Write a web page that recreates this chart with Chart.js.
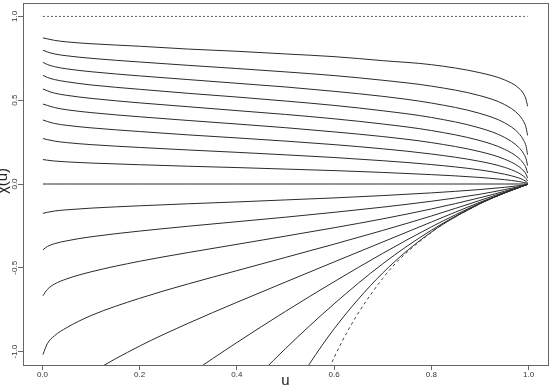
<!DOCTYPE html>
<html>
<head>
<meta charset="utf-8">
<script src="https://cdn.jsdelivr.net/npm/chart.js@4/dist/chart.umd.min.js"></script>
<style>
  html, body { margin: 0; padding: 0; background: #fff; }
  #wrap { width: 558px; height: 390px; }
</style>
</head>
<body>
<div id="wrap"><canvas id="chart" width="558" height="390"></canvas></div>
<script>
// u grid shared by every curve
const U = [0.001, 0.01, 0.025, 0.05, 0.1, 0.2, 0.3, 0.4, 0.5, 0.6, 0.7, 0.8, 0.9, 0.95, 0.98, 0.99, 0.995, 0.998];

// chi(u) curves, positive dependence (top to bottom)
const chiP9 = [0.872, 0.866, 0.857, 0.848, 0.837, 0.822, 0.805, 0.792, 0.776, 0.760, 0.736, 0.712, 0.664, 0.622, 0.572, 0.537, 0.503, 0.464];
const chiP8 = [0.798, 0.788, 0.776, 0.765, 0.750, 0.728, 0.708, 0.689, 0.669, 0.647, 0.619, 0.584, 0.527, 0.475, 0.413, 0.372, 0.335, 0.290];
const chiP7 = [0.726, 0.713, 0.700, 0.687, 0.670, 0.645, 0.623, 0.601, 0.579, 0.553, 0.523, 0.483, 0.421, 0.366, 0.302, 0.260, 0.224, 0.175];
const chiP6 = [0.648, 0.636, 0.623, 0.610, 0.591, 0.565, 0.541, 0.519, 0.495, 0.469, 0.437, 0.397, 0.334, 0.279, 0.218, 0.180, 0.150, 0.110];
const chiP5 = [0.567, 0.556, 0.542, 0.529, 0.511, 0.484, 0.461, 0.438, 0.415, 0.389, 0.358, 0.319, 0.259, 0.208, 0.154, 0.121, 0.095, 0.065];
const chiP4 = [0.477, 0.469, 0.456, 0.443, 0.426, 0.401, 0.379, 0.358, 0.336, 0.311, 0.283, 0.247, 0.193, 0.149, 0.104, 0.078, 0.058, 0.036];
const chiP3 = [0.382, 0.373, 0.361, 0.350, 0.335, 0.313, 0.293, 0.275, 0.256, 0.235, 0.210, 0.179, 0.135, 0.100, 0.065, 0.046, 0.032, 0.018];
const chiP2 = [0.271, 0.265, 0.256, 0.247, 0.235, 0.218, 0.203, 0.189, 0.174, 0.158, 0.139, 0.116, 0.084, 0.059, 0.036, 0.024, 0.015, 0.008];
const chiP1 = [0.146, 0.142, 0.137, 0.132, 0.125, 0.115, 0.106, 0.098, 0.089, 0.080, 0.069, 0.056, 0.039, 0.026, 0.015, 0.009, 0.006, 0.003];
const chiZero = [0, 0, 0, 0, 0, 0, 0, 0, 0, 0, 0, 0, 0, 0, 0, 0, 0, 0];

// negative dependence (null = below the plot)
const chiM1 = [-0.175, -0.169, -0.161, -0.154, -0.144, -0.130, -0.118, -0.107, -0.095, -0.083, -0.069, -0.053, -0.033, -0.020, -0.010, -0.006, -0.003, -0.001];
const chiM2 = [-0.393, -0.373, -0.356, -0.339, -0.315, -0.281, -0.252, -0.225, -0.198, -0.169, -0.138, -0.103, -0.061, -0.034, -0.016, -0.009, -0.005, -0.002];
const chiM3 = [-0.667, -0.629, -0.597, -0.566, -0.524, -0.461, -0.409, -0.360, -0.311, -0.261, -0.208, -0.149, -0.082, -0.044, -0.019, -0.010, -0.005, -0.002];
const chiM4 = [-1.018, -0.953, -0.905, -0.857, -0.785, -0.682, -0.596, -0.517, -0.438, -0.359, -0.277, -0.191, -0.098, -0.050, -0.021, -0.010, -0.005, -0.002];
const chiM5 = [null, null, null, -1.245, -1.131, -0.967, -0.831, -0.706, -0.585, -0.465, -0.346, -0.227, -0.109, -0.054, -0.021, -0.010, -0.005, -0.002];
const chiM6 = [null, null, null, null, null, -1.357, -1.142, -0.946, -0.760, -0.583, -0.414, -0.256, -0.115, -0.054, -0.021, -0.010, -0.005, -0.002];
const chiM7 = [null, null, null, null, null, null, null, -1.273, -0.982, -0.715, -0.476, -0.276, -0.117, -0.054, -0.021, -0.010, -0.005, -0.002];
const chiM8 = [null, null, null, null, null, null, null, null, -1.288, -0.864, -0.531, -0.287, -0.118, -0.054, -0.021, -0.010, -0.005, -0.002];

// limits: dotted line at the top, dashed curve at the bottom
const chiUpper = [1, 1, 1, 1, 1, 1, 1, 1, 1, 1, 1, 1, 1, 1, 1, 1, 1, 1];
const chiLower = [null, null, null, null, null, null, null, null, -1.800, -1.036, -0.563, -0.289, -0.118, -0.054, -0.021, -0.010, -0.005, -0.002];

const xTicks = [0, 0.2, 0.4, 0.6, 0.8, 1];
const xTickLabels = ["0.0", "0.2", "0.4", "0.6", "0.8", "1.0"];
const yTicks = [-1, -0.5, 0, 0.5, 1];
const yTickLabels = ["-1.0", "-0.5", "0.0", "0.5", "1.0"];

const solid = [chiP9, chiP8, chiP7, chiP6, chiP5, chiP4, chiP3, chiP2, chiP1, chiZero,
               chiM1, chiM2, chiM3, chiM4, chiM5, chiM6, chiM7, chiM8];

function pts(arr) {
  return U.map((u, i) => ({ x: u, y: arr[i] }));
}

const lineColor = "#2b2b2b";
const datasets = solid.map(arr => ({
  data: pts(arr),
  borderColor: lineColor,
  borderWidth: 1,
  pointRadius: 0,
  cubicInterpolationMode: "monotone",
  fill: false
}));
datasets.push({
  data: pts(chiUpper), borderColor: "#555", borderWidth: 1,
  borderDash: [2, 2], pointRadius: 0, fill: false
});
datasets.push({
  data: pts(chiLower), borderColor: "#444", borderWidth: 1,
  borderDash: [3, 3], pointRadius: 0, cubicInterpolationMode: "monotone", fill: false
});

const axisFont = "Liberation Sans, Arial, sans-serif";

const decor = {
  id: "decor",
  afterDraw(chart) {
    const { ctx, chartArea: a, scales } = chart;
    ctx.save();
    ctx.strokeStyle = "#666";
    ctx.lineWidth = 1;
    ctx.strokeRect(Math.round(a.left) + 0.5, Math.round(a.top) + 0.5,
                   Math.round(a.right - a.left), Math.round(a.bottom - a.top));

    // rotated y tick labels
    ctx.fillStyle = "#333";
    ctx.font = "8px " + axisFont;
    ctx.textAlign = "center";
    ctx.textBaseline = "middle";
    yTicks.forEach((v, i) => {
      const py = scales.y.getPixelForValue(v);
      ctx.save();
      ctx.translate(15, py);
      ctx.rotate(-Math.PI / 2);
      ctx.fillText(yTickLabels[i], 0, 0);
      ctx.restore();
    });

    // axis titles
    ctx.fillStyle = "#222";
    ctx.font = "15px " + axisFont;
    ctx.fillText("u", (a.left + a.right) / 2, 381);
    ctx.save();
    ctx.translate(3, 181);
    ctx.rotate(-Math.PI / 2);
    ctx.fillText("\u03c7(u)", 0, 0);
    ctx.restore();
    ctx.restore();
  }
};

new Chart(document.getElementById("chart"), {
  type: "line",
  data: { datasets },
  options: {
    responsive: false,
    animation: false,
    layout: { padding: { left: 0, top: 3, right: 10, bottom: 0 } },
    plugins: { legend: { display: false }, tooltip: { enabled: false } },
    scales: {
      x: {
        type: "linear",
        min: -0.04,
        max: 1.04,
        afterBuildTicks: s => { s.ticks = xTicks.map(v => ({ value: v })); },
        afterFit: s => { s.height = 25; },
        ticks: {
          font: { size: 8, family: axisFont },
          color: "#333",
          padding: 0,
          maxRotation: 0,
          callback: v => xTickLabels[xTicks.indexOf(v)]
        },
        grid: { drawOnChartArea: false, drawTicks: true, tickLength: 5, color: "#666" },
        border: { display: false }
      },
      y: {
        type: "linear",
        min: -1.08,
        max: 1.08,
        afterBuildTicks: s => { s.ticks = yTicks.map(v => ({ value: v })); },
        afterFit: s => { s.width = 23; },
        ticks: { display: false },
        grid: { drawOnChartArea: false, drawTicks: true, tickLength: 5, color: "#666" },
        border: { display: false }
      }
    }
  },
  plugins: [decor]
});
</script>
</body>
</html>
